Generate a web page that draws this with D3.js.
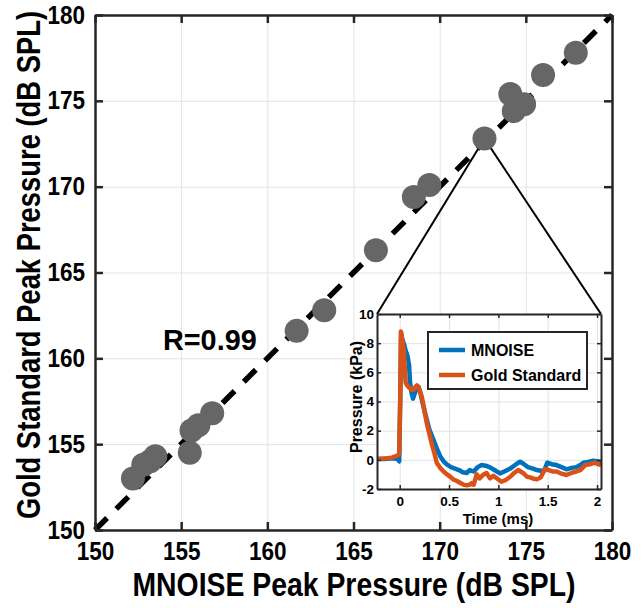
<!DOCTYPE html>
<html>
<head>
<meta charset="utf-8">
<script src="https://cdn.jsdelivr.net/npm/d3@7"></script>
<style>
  body { margin: 0; background: #fff; }
  text { font-family: "Liberation Sans", Arial, sans-serif; font-weight: bold; fill: #000; }
</style>
</head>
<body>
<div id="chart"></div>
<script>
// peak pressures (dB SPL), one per blast
var mnoiseDb = [152.2, 152.8, 153.2, 153.5, 155.5, 155.6, 156.0, 156.8, 161.7, 163.3, 166.3, 168.5, 169.4, 172.6, 174.1, 174.3, 174.9, 176.0, 177.9];
var goldDb   = [153.0, 153.8, 154.0, 154.3, 154.5, 155.8, 156.1, 156.8, 161.6, 162.8, 166.3, 169.4, 170.1, 172.8, 175.4, 174.4, 174.8, 176.5, 177.8];
var zoomIndex = 13;
var mainTicks = [150, 155, 160, 165, 170, 175, 180];

// inset waveforms (time in ms, pressure in kPa)
var mnoiseT = [-0.23, -0.15, -0.08, -0.02, -0.005, 0.005, 0.015, 0.03, 0.045, 0.06, 0.08, 0.095, 0.105, 0.12, 0.135, 0.15, 0.166, 0.19, 0.21, 0.225, 0.25, 0.275, 0.3, 0.34, 0.375, 0.41, 0.445, 0.48, 0.52, 0.56, 0.6, 0.64, 0.68, 0.71, 0.75, 0.79, 0.83, 0.87, 0.915, 0.96, 1.016, 1.06, 1.12, 1.17, 1.22, 1.26, 1.3, 1.35, 1.39, 1.43, 1.46, 1.495, 1.54, 1.59, 1.64, 1.69, 1.74, 1.79, 1.83, 1.86, 1.91, 1.96, 2.0, 2.04];
var mnoiseP = [0.05, 0.05, 0.1, 0.05, -0.1, 4.0, 8.5, 8.2, 7.9, 7.5, 7.1, 6.5, 5.3, 4.6, 4.2, 4.5, 4.8, 5.0, 4.6, 4.1, 3.4, 2.75, 2.1, 1.4, 0.8, 0.25, -0.1, -0.33, -0.5, -0.6, -0.7, -0.85, -0.9, -0.7, -0.8, -0.5, -0.36, -0.4, -0.52, -0.7, -0.93, -0.8, -0.6, -0.35, -0.13, -0.3, -0.5, -0.6, -0.7, -0.75, -0.8, -0.2, -0.3, -0.36, -0.5, -0.65, -0.55, -0.5, -0.35, -0.2, -0.15, -0.06, -0.1, -0.2];
var goldT = [-0.23, -0.15, -0.08, -0.02, -0.005, 0.005, 0.012, 0.02, 0.03, 0.04, 0.05, 0.06, 0.075, 0.09, 0.105, 0.12, 0.14, 0.16, 0.175, 0.19, 0.21, 0.225, 0.25, 0.275, 0.3, 0.325, 0.35, 0.375, 0.41, 0.445, 0.48, 0.52, 0.545, 0.58, 0.62, 0.645, 0.68, 0.71, 0.73, 0.75, 0.78, 0.81, 0.85, 0.88, 0.915, 0.95, 0.99, 1.03, 1.07, 1.12, 1.16, 1.2, 1.25, 1.29, 1.32, 1.36, 1.39, 1.43, 1.47, 1.51, 1.55, 1.59, 1.64, 1.69, 1.74, 1.79, 1.83, 1.88, 1.93, 1.98, 2.01, 2.04];
var goldP = [0.05, 0.1, 0.15, 0.3, 0.4, 4.0, 8.8, 8.6, 7.9, 7.6, 6.5, 5.3, 5.1, 5.0, 4.9, 4.8, 4.8, 5.0, 5.1, 5.0, 4.6, 4.3, 3.4, 2.5, 1.8, 1.1, 0.5, -0.2, -0.55, -0.8, -1.0, -1.2, -1.35, -1.45, -1.6, -1.7, -1.75, -1.7, -1.6, -1.7, -1.0, -1.27, -1.0, -0.9, -1.27, -1.1, -1.3, -1.5, -1.4, -1.16, -0.9, -0.7, -0.9, -1.16, -1.2, -1.3, -1.34, -1.2, -0.65, -0.7, -0.8, -0.8, -0.95, -1.04, -0.9, -0.8, -0.7, -0.36, -0.3, -0.2, -0.3, -0.36];
var insetXTicks = [0, 0.5, 1, 1.5, 2];
var insetYTicks = [-2, 0, 2, 4, 6, 8, 10];
var seriesNames = ["MNOISE", "Gold Standard"];
var seriesColors = ["#0072BD", "#D95319"];

var svgWidth = 642, svgHeight = 608;
var margin = { top: 15, right: 30, bottom: 78, left: 95 };
var chartWidth = svgWidth - margin.left - margin.right;
var chartHeight = svgHeight - margin.top - margin.bottom;
var axisColor = "#262626";
var gridColor = "#e3e3e3";

// MATLAB text is a bit narrower than Liberation Sans
function squeeze(sel, k) {
  sel.each(function () {
    var w = this.getComputedTextLength();
    d3.select(this).attr("textLength", w * k).attr("lengthAdjust", "spacingAndGlyphs");
  });
}

var svg = d3.select("#chart").append("svg")
  .attr("width", svgWidth)
  .attr("height", svgHeight);

var chartGroup = svg.append("g")
  .attr("transform", `translate(${margin.left}, ${margin.top})`);

var xScale = d3.scaleLinear().domain([150, 180]).range([0, chartWidth]);
var yScale = d3.scaleLinear().domain([150, 180]).range([chartHeight, 0]);

// grid
chartGroup.append("g")
  .call(d3.axisBottom(xScale).tickValues(mainTicks).tickSize(chartHeight).tickFormat(""))
  .call(g => g.select(".domain").remove())
  .selectAll("line").attr("stroke", gridColor);
chartGroup.append("g")
  .call(d3.axisLeft(yScale).tickValues(mainTicks).tickSize(-chartWidth).tickFormat(""))
  .call(g => g.select(".domain").remove())
  .selectAll("line").attr("stroke", gridColor);

// identity line
chartGroup.append("line")
  .attr("x1", xScale(150)).attr("y1", yScale(150))
  .attr("x2", xScale(180)).attr("y2", yScale(180))
  .attr("stroke", "#000")
  .attr("stroke-width", 5.5)
  .attr("stroke-dasharray", "17,13");

// zoom lines to the inset
var inX = d3.scaleLinear().domain([-0.23, 2.04]).range([377 - margin.left, 601 - margin.left]);
var inY = d3.scaleLinear().domain([-2, 10]).range([489 - margin.top, 314 - margin.top]);
var insetW = inX.range()[1] - inX.range()[0];
var insetH = inY.range()[0] - inY.range()[1];

[inX.range()[0], inX.range()[1]].forEach(function (cx) {
  chartGroup.append("line")
    .attr("x1", xScale(mnoiseDb[zoomIndex])).attr("y1", yScale(goldDb[zoomIndex]))
    .attr("x2", cx).attr("y2", inY.range()[1])
    .attr("stroke", "#000")
    .attr("stroke-width", 2);
});

chartGroup.selectAll("circle")
  .data(mnoiseDb)
  .enter()
  .append("circle")
  .attr("cx", d => xScale(d))
  .attr("cy", (d, i) => yScale(goldDb[i]))
  .attr("r", 12)
  .attr("fill", "#666666");

// main axes with ticks inside, box on
function styleAxis(g) {
  g.select(".domain").attr("stroke", axisColor).attr("stroke-width", 2.5);
  g.selectAll(".tick line").attr("stroke", axisColor).attr("stroke-width", 2.5);
}
var bottomAxis = chartGroup.append("g")
  .attr("transform", `translate(0, ${chartHeight})`)
  .call(d3.axisBottom(xScale).tickValues(mainTicks).tickSize(-8).tickSizeOuter(0).tickPadding(12))
  .call(styleAxis);
var leftAxis = chartGroup.append("g")
  .call(d3.axisLeft(yScale).tickValues(mainTicks).tickSize(-8).tickSizeOuter(0).tickPadding(10))
  .call(styleAxis);
chartGroup.append("g")
  .call(d3.axisTop(xScale).tickValues(mainTicks).tickSize(-8).tickSizeOuter(0).tickFormat(""))
  .call(styleAxis);
chartGroup.append("g")
  .attr("transform", `translate(${chartWidth}, 0)`)
  .call(d3.axisRight(yScale).tickValues(mainTicks).tickSize(-8).tickSizeOuter(0).tickFormat(""))
  .call(styleAxis);

[bottomAxis, leftAxis].forEach(function (a) {
  a.selectAll("text")
    .attr("fill", "#000")
    .style("font-size", "25px")
    .style("font-family", "'Liberation Sans', Arial, sans-serif")
    .style("font-weight", "bold")
    .call(squeeze, 0.9);
});

var xLabel = svg.append("text")
  .attr("transform", "translate(354, 596) scale(0.86, 1)")
  .attr("text-anchor", "middle")
  .style("font-size", "33px")
  .text("MNOISE Peak Pressure (dB SPL)");

svg.append("text")
  .attr("transform", "translate(40, 265) rotate(-90) scale(0.83, 1)")
  .attr("text-anchor", "middle")
  .style("font-size", "33px")
  .text("Gold Standard Peak Pressure (dB SPL)");

svg.append("text")
  .attr("x", 163)
  .attr("y", 350)
  .style("font-size", "30px")
  .text("R=0.99")
  .call(squeeze, 0.96);

// ---- inset ----
var inset = chartGroup.append("g");

inset.append("rect")
  .attr("x", inX.range()[0]).attr("y", inY.range()[1])
  .attr("width", insetW).attr("height", insetH)
  .attr("fill", "#fff");

inset.append("g")
  .attr("transform", `translate(0, ${inY.range()[1]})`)
  .call(d3.axisBottom(inX).tickValues(insetXTicks).tickSize(insetH).tickFormat(""))
  .call(g => g.select(".domain").remove())
  .selectAll("line").attr("stroke", gridColor);
inset.append("g")
  .attr("transform", `translate(${inX.range()[0]}, 0)`)
  .call(d3.axisLeft(inY).tickValues(insetYTicks).tickSize(-insetW).tickFormat(""))
  .call(g => g.select(".domain").remove())
  .selectAll("line").attr("stroke", gridColor);

svg.append("defs").append("clipPath")
  .attr("id", "insetClip")
  .append("rect")
  .attr("x", inX.range()[0]).attr("y", inY.range()[1])
  .attr("width", insetW).attr("height", insetH);

var line = d3.line()
  .x(d => inX(d[0]))
  .y(d => inY(d[1]));

var waves = [d3.zip(mnoiseT, mnoiseP), d3.zip(goldT, goldP)];
inset.append("g")
  .attr("clip-path", "url(#insetClip)")
  .selectAll("path")
  .data(waves)
  .enter()
  .append("path")
  .attr("d", line)
  .attr("fill", "none")
  .attr("stroke", (d, i) => seriesColors[i])
  .attr("stroke-width", 4.5)
  .attr("stroke-linejoin", "round");

function styleInsetAxis(g) {
  g.select(".domain").attr("stroke", axisColor).attr("stroke-width", 2);
  g.selectAll(".tick line").attr("stroke", axisColor).attr("stroke-width", 1.5);
}
var inBottom = inset.append("g")
  .attr("transform", `translate(0, ${inY.range()[0]})`)
  .call(d3.axisBottom(inX).tickValues(insetXTicks).tickFormat(d => String(d)).tickSize(-4).tickSizeOuter(0).tickPadding(7))
  .call(styleInsetAxis);
var inLeft = inset.append("g")
  .attr("transform", `translate(${inX.range()[0]}, 0)`)
  .call(d3.axisLeft(inY).tickValues(insetYTicks).tickFormat(d => String(d)).tickSize(-4).tickSizeOuter(0).tickPadding(3))
  .call(styleInsetAxis);
inset.append("g")
  .attr("transform", `translate(0, ${inY.range()[1]})`)
  .call(d3.axisTop(inX).tickValues(insetXTicks).tickSize(-4).tickSizeOuter(0).tickFormat(""))
  .call(styleInsetAxis);
inset.append("g")
  .attr("transform", `translate(${inX.range()[1]}, 0)`)
  .call(d3.axisRight(inY).tickValues(insetYTicks).tickSize(-4).tickSizeOuter(0).tickFormat(""))
  .call(styleInsetAxis);

[inBottom, inLeft].forEach(function (a) {
  a.selectAll("text")
    .attr("fill", "#000")
    .style("font-size", "13.5px")
    .style("font-family", "'Liberation Sans', Arial, sans-serif")
    .style("font-weight", "bold");
});

svg.append("text")
  .attr("x", 498)
  .attr("y", 524)
  .attr("text-anchor", "middle")
  .style("font-size", "15px")
  .text("Time (ms)");

svg.append("text")
  .attr("transform", "translate(362, 397) rotate(-90)")
  .attr("text-anchor", "middle")
  .style("font-size", "16px")
  .text("Pressure (kPa)");

// legend
var legend = svg.append("g");
legend.append("rect")
  .attr("x", 428).attr("y", 332)
  .attr("width", 159).attr("height", 57)
  .attr("fill", "#fff")
  .attr("stroke", axisColor)
  .attr("stroke-width", 2);

var items = legend.selectAll("g.item")
  .data(seriesNames)
  .enter()
  .append("g")
  .attr("transform", (d, i) => `translate(439, ${350 + i * 25})`);
items.append("line")
  .attr("x1", 0).attr("x2", 26)
  .attr("stroke", (d, i) => seriesColors[i])
  .attr("stroke-width", 4.5);
items.append("text")
  .attr("x", 32)
  .attr("dy", "0.36em")
  .style("font-size", "16px")
  .text(d => d);
</script>
</body>
</html>
